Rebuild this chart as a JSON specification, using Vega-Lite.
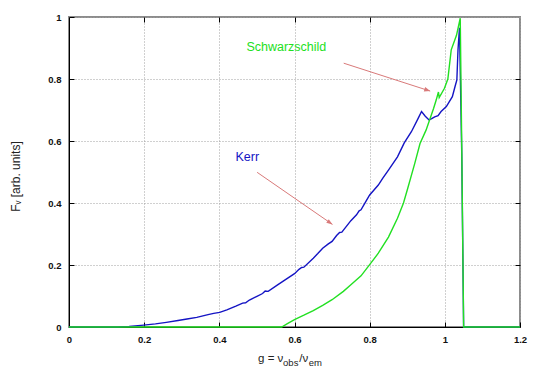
{
  "$schema": "https://vega.github.io/schema/vega-lite/v6.json",
  "width": 451,
  "height": 310,
  "autosize": "none",
  "padding": {"left": 69, "top": 17, "right": 25, "bottom": 55},
  "background": "white",
  "config": {
    "font": "Liberation Sans",
    "view": {"stroke": "#8c8c8c", "strokeWidth": 2},
    "axis": {"labelFont": "Liberation Sans", "titleFont": "Liberation Sans"}
  },
  "datasets": {
    "curves": [
      {"series": "Kerr", "g": 0, "F": 0},
      {"series": "Kerr", "g": 0.129, "F": 0},
      {"series": "Kerr", "g": 0.16, "F": 0.002},
      {"series": "Kerr", "g": 0.199, "F": 0.006},
      {"series": "Kerr", "g": 0.23, "F": 0.01},
      {"series": "Kerr", "g": 0.259, "F": 0.015},
      {"series": "Kerr", "g": 0.29, "F": 0.021},
      {"series": "Kerr", "g": 0.314, "F": 0.026},
      {"series": "Kerr", "g": 0.34, "F": 0.031},
      {"series": "Kerr", "g": 0.37, "F": 0.04},
      {"series": "Kerr", "g": 0.385, "F": 0.044},
      {"series": "Kerr", "g": 0.401, "F": 0.047},
      {"series": "Kerr", "g": 0.42, "F": 0.055},
      {"series": "Kerr", "g": 0.444, "F": 0.067},
      {"series": "Kerr", "g": 0.462, "F": 0.077},
      {"series": "Kerr", "g": 0.47, "F": 0.078},
      {"series": "Kerr", "g": 0.48, "F": 0.087},
      {"series": "Kerr", "g": 0.5, "F": 0.099},
      {"series": "Kerr", "g": 0.515, "F": 0.108},
      {"series": "Kerr", "g": 0.522, "F": 0.116},
      {"series": "Kerr", "g": 0.53, "F": 0.115},
      {"series": "Kerr", "g": 0.555, "F": 0.136},
      {"series": "Kerr", "g": 0.575, "F": 0.152},
      {"series": "Kerr", "g": 0.6, "F": 0.172},
      {"series": "Kerr", "g": 0.612, "F": 0.186},
      {"series": "Kerr", "g": 0.619, "F": 0.192},
      {"series": "Kerr", "g": 0.625, "F": 0.193},
      {"series": "Kerr", "g": 0.65, "F": 0.222},
      {"series": "Kerr", "g": 0.662, "F": 0.237},
      {"series": "Kerr", "g": 0.675, "F": 0.254},
      {"series": "Kerr", "g": 0.69, "F": 0.268},
      {"series": "Kerr", "g": 0.7, "F": 0.276},
      {"series": "Kerr", "g": 0.712, "F": 0.295},
      {"series": "Kerr", "g": 0.72, "F": 0.305},
      {"series": "Kerr", "g": 0.726, "F": 0.306},
      {"series": "Kerr", "g": 0.75, "F": 0.343},
      {"series": "Kerr", "g": 0.765, "F": 0.362},
      {"series": "Kerr", "g": 0.772, "F": 0.375},
      {"series": "Kerr", "g": 0.777, "F": 0.378},
      {"series": "Kerr", "g": 0.79, "F": 0.405},
      {"series": "Kerr", "g": 0.8, "F": 0.426},
      {"series": "Kerr", "g": 0.823, "F": 0.458},
      {"series": "Kerr", "g": 0.835, "F": 0.48},
      {"series": "Kerr", "g": 0.85, "F": 0.506},
      {"series": "Kerr", "g": 0.874, "F": 0.549},
      {"series": "Kerr", "g": 0.892, "F": 0.594},
      {"series": "Kerr", "g": 0.911, "F": 0.63},
      {"series": "Kerr", "g": 0.929, "F": 0.673},
      {"series": "Kerr", "g": 0.938, "F": 0.695},
      {"series": "Kerr", "g": 0.948, "F": 0.68},
      {"series": "Kerr", "g": 0.958, "F": 0.668},
      {"series": "Kerr", "g": 0.965, "F": 0.672},
      {"series": "Kerr", "g": 0.973, "F": 0.678},
      {"series": "Kerr", "g": 0.982, "F": 0.682},
      {"series": "Kerr", "g": 0.99, "F": 0.695},
      {"series": "Kerr", "g": 1.004, "F": 0.711},
      {"series": "Kerr", "g": 1.02, "F": 0.743},
      {"series": "Kerr", "g": 1.027, "F": 0.775},
      {"series": "Kerr", "g": 1.032, "F": 0.797},
      {"series": "Kerr", "g": 1.035, "F": 0.893},
      {"series": "Kerr", "g": 1.039, "F": 0.965},
      {"series": "Kerr", "g": 1.045, "F": 0.56},
      {"series": "Kerr", "g": 1.05, "F": 0},
      {"series": "Kerr", "g": 1.2, "F": 0},
      {"series": "Schwarzschild", "g": 0, "F": 0},
      {"series": "Schwarzschild", "g": 0.566, "F": 0},
      {"series": "Schwarzschild", "g": 0.58, "F": 0.01},
      {"series": "Schwarzschild", "g": 0.6, "F": 0.024},
      {"series": "Schwarzschild", "g": 0.625, "F": 0.038},
      {"series": "Schwarzschild", "g": 0.65, "F": 0.053},
      {"series": "Schwarzschild", "g": 0.675, "F": 0.07},
      {"series": "Schwarzschild", "g": 0.7, "F": 0.088},
      {"series": "Schwarzschild", "g": 0.73, "F": 0.115},
      {"series": "Schwarzschild", "g": 0.75, "F": 0.136},
      {"series": "Schwarzschild", "g": 0.777, "F": 0.165},
      {"series": "Schwarzschild", "g": 0.8, "F": 0.201},
      {"series": "Schwarzschild", "g": 0.823, "F": 0.238},
      {"series": "Schwarzschild", "g": 0.85, "F": 0.29},
      {"series": "Schwarzschild", "g": 0.874, "F": 0.351},
      {"series": "Schwarzschild", "g": 0.89, "F": 0.4},
      {"series": "Schwarzschild", "g": 0.9, "F": 0.442},
      {"series": "Schwarzschild", "g": 0.92, "F": 0.528},
      {"series": "Schwarzschild", "g": 0.934, "F": 0.592},
      {"series": "Schwarzschild", "g": 0.95, "F": 0.635},
      {"series": "Schwarzschild", "g": 0.97, "F": 0.705},
      {"series": "Schwarzschild", "g": 0.977, "F": 0.732},
      {"series": "Schwarzschild", "g": 0.983, "F": 0.758},
      {"series": "Schwarzschild", "g": 0.985, "F": 0.74},
      {"series": "Schwarzschild", "g": 0.999, "F": 0.77},
      {"series": "Schwarzschild", "g": 1.008, "F": 0.8},
      {"series": "Schwarzschild", "g": 1.017, "F": 0.894},
      {"series": "Schwarzschild", "g": 1.031, "F": 0.941},
      {"series": "Schwarzschild", "g": 1.041, "F": 0.996},
      {"series": "Schwarzschild", "g": 1.045, "F": 0.58},
      {"series": "Schwarzschild", "g": 1.05, "F": 0},
      {"series": "Schwarzschild", "g": 1.2, "F": 0}
    ],
    "labels": [
      {"series": "Schwarzschild", "text": "Schwarzschild", "g": 0.472, "F": 0.902},
      {"series": "Kerr", "text": "Kerr", "g": 0.443, "F": 0.549}
    ],
    "arrows": [
      {"name": "Schwarzschild", "g": 0.731, "F": 0.851, "g2": 0.961, "F2": 0.761},
      {"name": "Kerr", "g": 0.5005, "F": 0.499, "g2": 0.701, "F2": 0.331}
    ],
    "xtitle": [
      {"part": "main", "text": "g = ν", "g": 0.503, "F": -0.112},
      {"part": "sub", "text": "obs", "g": 0.5696, "F": -0.125},
      {"part": "main", "text": "/ν", "g": 0.6126, "F": -0.112},
      {"part": "sub", "text": "em", "g": 0.638, "F": -0.125}
    ]
  },
  "resolve": {"axis": {"x": "independent", "y": "independent"}},
  "layer": [
    {
      "data": {"name": "curves"},
      "mark": {"type": "line", "strokeWidth": 1.4},
      "encoding": {
        "x": {
          "field": "g", "type": "quantitative",
          "scale": {"domain": [0, 1.2], "nice": false, "zero": false},
          "axis": {
            "orient": "bottom", "title": null, "values": [0, 0.2, 0.4, 0.6, 0.8, 1, 1.2],
            "labelExpr": "datum.value == 1 ? '1' : datum.value == 0 ? '0' : format(datum.value, '.1f')",
            "grid": true, "gridColor": "#a0a0a0", "gridDash": [1, 2], "gridWidth": 1,
            "domainColor": "#000", "domainWidth": 1,
            "ticks": true, "tickSize": -5, "tickColor": "#000",
            "labelFontSize": 9.5, "labelFontWeight": "bold", "labelColor": "#111", "labelPadding": 12,
            "labelFlush": false, "labelOverlap": false
          }
        },
        "y": {
          "field": "F", "type": "quantitative",
          "scale": {"domain": [0, 1], "nice": false},
          "axis": {
            "orient": "left", "title": "Fᵥ [arb. units]", "values": [0, 0.2, 0.4, 0.6, 0.8, 1],
            "labelExpr": "datum.value == 1 ? '1' : datum.value == 0 ? '0' : format(datum.value, '.1f')",
            "grid": true, "gridColor": "#a0a0a0", "gridDash": [1, 2], "gridWidth": 1,
            "domainColor": "#000", "domainWidth": 1,
            "ticks": true, "tickSize": -5, "tickColor": "#000",
            "labelFontSize": 9.5, "labelFontWeight": "bold", "labelColor": "#111", "labelPadding": 13,
            "labelFlush": false, "labelOverlap": false,
            "titleFontSize": 12, "titleFontWeight": "normal", "titleColor": "#222",
            "titleX": -54, "titleY": 159, "titleAlign": "center", "titleBaseline": "middle", "titleAngle": 270
          }
        },
        "color": {
          "field": "series", "type": "nominal",
          "scale": {"domain": ["Kerr", "Schwarzschild"], "range": ["#1414c4", "#22e022"]},
          "legend": null
        }
      }
    },
    {
      "data": {"name": "arrows"},
      "mark": {"type": "rule", "color": "#d97a7a", "strokeWidth": 1},
      "encoding": {
        "x": {"field": "g", "type": "quantitative",
          "axis": {"orient": "top", "title": null, "labels": false, "domain": false, "grid": false,
            "values": [0.2, 0.4, 0.6, 0.8, 1], "ticks": true, "tickSize": -5, "tickColor": "#000"}},
        "y": {"field": "F", "type": "quantitative",
          "axis": {"orient": "right", "title": null, "labels": false, "domain": false, "grid": false,
            "values": [0.2, 0.4, 0.6, 0.8], "ticks": true, "tickSize": -5, "tickColor": "#000"}},
        "x2": {"field": "g2"},
        "y2": {"field": "F2"}
      }
    },
    {
      "data": {"name": "arrows"},
      "transform": [{"filter": "datum.name == 'Kerr'"}],
      "mark": {"type": "point", "shape": "M-1.2,-0.45L0,0L-1.2,0.45Z", "filled": true, "color": "#d97a7a", "size": 100, "angle": 34.6, "opacity": 1},
      "encoding": {
        "x": {"field": "g2", "type": "quantitative", "axis": null},
        "y": {"field": "F2", "type": "quantitative", "axis": null}
      }
    },
    {
      "data": {"name": "arrows"},
      "transform": [{"filter": "datum.name == 'Schwarzschild'"}],
      "mark": {"type": "point", "shape": "M-1.2,-0.45L0,0L-1.2,0.45Z", "filled": true, "color": "#d97a7a", "size": 100, "angle": 18, "opacity": 1},
      "encoding": {
        "x": {"field": "g2", "type": "quantitative", "axis": null},
        "y": {"field": "F2", "type": "quantitative", "axis": null}
      }
    },
    {
      "data": {"name": "labels"},
      "mark": {"type": "text", "align": "left", "baseline": "middle", "fontSize": 12.5, "font": "Liberation Sans"},
      "encoding": {
        "x": {"field": "g", "type": "quantitative", "axis": null},
        "y": {"field": "F", "type": "quantitative", "axis": null},
        "text": {"field": "text"},
        "color": {"field": "series", "type": "nominal", "legend": null}
      }
    },
    {
      "data": {"name": "xtitle"},
      "transform": [{"filter": "datum.part == 'main'"}],
      "mark": {"type": "text", "align": "left", "baseline": "alphabetic", "fontSize": 11.5, "font": "Liberation Sans", "color": "#222"},
      "encoding": {
        "x": {"field": "g", "type": "quantitative", "axis": null},
        "y": {"field": "F", "type": "quantitative", "axis": null},
        "text": {"field": "text"}
      }
    },
    {
      "data": {"name": "xtitle"},
      "transform": [{"filter": "datum.part == 'sub'"}],
      "mark": {"type": "text", "align": "left", "baseline": "alphabetic", "fontSize": 9.5, "font": "Liberation Sans", "color": "#222"},
      "encoding": {
        "x": {"field": "g", "type": "quantitative", "axis": null},
        "y": {"field": "F", "type": "quantitative", "axis": null},
        "text": {"field": "text"}
      }
    }
  ]
}
